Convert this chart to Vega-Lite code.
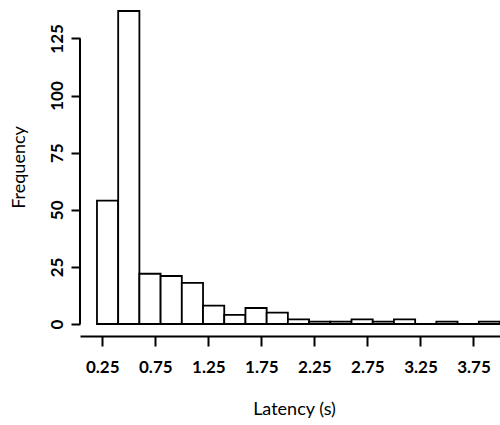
{
  "$schema": "https://vega.github.io/schema/vega-lite/v6.json",
  "width": 420,
  "height": 313,
  "autosize": {"type": "none"},
  "padding": {"left": 80, "top": 11, "right": 0, "bottom": 101},
  "background": "white",
  "config": {"view": {"stroke": null}, "font": "Lato"},
  "layer": [
    {
      "data": {
        "values": [
          {"bin_start": 0.2, "bin_end": 0.4, "count": 54},
          {"bin_start": 0.4, "bin_end": 0.6, "count": 137},
          {"bin_start": 0.6, "bin_end": 0.8, "count": 22},
          {"bin_start": 0.8, "bin_end": 1.0, "count": 21},
          {"bin_start": 1.0, "bin_end": 1.2, "count": 18},
          {"bin_start": 1.2, "bin_end": 1.4, "count": 8},
          {"bin_start": 1.4, "bin_end": 1.6, "count": 4},
          {"bin_start": 1.6, "bin_end": 1.8, "count": 7},
          {"bin_start": 1.8, "bin_end": 2.0, "count": 5},
          {"bin_start": 2.0, "bin_end": 2.2, "count": 2},
          {"bin_start": 2.2, "bin_end": 2.4, "count": 1},
          {"bin_start": 2.4, "bin_end": 2.6, "count": 1},
          {"bin_start": 2.6, "bin_end": 2.8, "count": 2},
          {"bin_start": 2.8, "bin_end": 3.0, "count": 1},
          {"bin_start": 3.0, "bin_end": 3.2, "count": 2},
          {"bin_start": 3.2, "bin_end": 3.4, "count": 0},
          {"bin_start": 3.4, "bin_end": 3.6, "count": 1},
          {"bin_start": 3.6, "bin_end": 3.8, "count": 0},
          {"bin_start": 3.8, "bin_end": 4.0, "count": 1}
        ]
      },
      "mark": {"type": "bar", "fill": "white", "stroke": "black", "strokeWidth": 1.8},
      "encoding": {
        "x": {
          "field": "bin_start",
          "type": "quantitative",
          "scale": {"domain": [0.04, 4.0], "nice": false, "zero": false},
          "axis": {
            "title": "Latency (s)",
            "values": [0.25, 0.5, 0.75, 1.0, 1.25, 1.5, 1.75, 2.0, 2.25, 2.5, 2.75, 3.0, 3.25, 3.5, 3.75, 4.0],
            "labelExpr": "(datum.value * 4) % 2 == 1 ? format(datum.value, '.2f') : ''",
            "offset": 12,
            "grid": false,
            "domainColor": "black",
            "domainWidth": 2,
            "tickColor": "black",
            "tickWidth": 2,
            "tickSize": 10,
            "labelColor": "black",
            "labelFont": "Lato",
            "labelFontWeight": "bold",
            "labelFontSize": 17,
            "labelPadding": 13,
            "labelOverlap": false,
            "labelFlush": false,
            "titleColor": "black",
            "titleFont": "Lato",
            "titleFontSize": 18,
            "titleFontWeight": "normal",
            "titleX": 214,
            "titleY": 73,
            "titleBaseline": "middle"
          }
        },
        "x2": {"field": "bin_end"},
        "y": {
          "field": "count",
          "type": "quantitative",
          "scale": {"domain": [0, 137], "nice": false},
          "axis": {
            "title": "Frequency",
            "values": [0, 25, 50, 75, 100, 125],
            "domain": false,
            "grid": false,
            "tickColor": "black",
            "tickWidth": 2,
            "tickSize": 9,
            "labelAngle": -90,
            "labelAlign": "center",
            "labelBaseline": "alphabetic",
            "labelPadding": 9,
            "labelColor": "black",
            "labelFont": "Lato",
            "labelFontWeight": "bold",
            "labelFontSize": 17,
            "labelOverlap": false,
            "labelFlush": false,
            "titleColor": "black",
            "titleFont": "Lato",
            "titleFontSize": 18,
            "titleFontWeight": "normal",
            "titleAngle": -90,
            "titleX": -61,
            "titleY": 156,
            "titleBaseline": "middle",
            "titleAlign": "center"
          }
        },
        "y2": {"datum": 0}
      }
    },
    {
      "data": {"values": [{"axis_at": 0.04, "axis_from": 0, "axis_to": 125}]},
      "mark": {"type": "rule", "color": "black", "strokeWidth": 2},
      "encoding": {
        "x": {"field": "axis_at", "type": "quantitative"},
        "y": {"field": "axis_from", "type": "quantitative"},
        "y2": {"field": "axis_to"}
      }
    }
  ]
}
